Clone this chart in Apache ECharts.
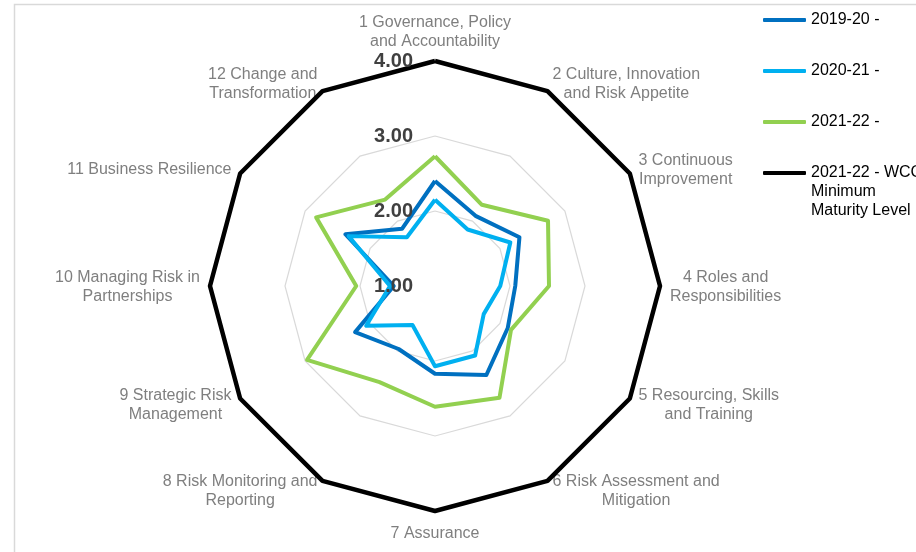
<!DOCTYPE html>
<html>
<head>
<meta charset="utf-8">
<script src="https://cdn.jsdelivr.net/npm/echarts@6/dist/echarts.min.js"></script>
<style>
  html, body { margin: 0; padding: 0; background: #ffffff; }
  #chart { width: 916px; height: 552px; }
</style>
</head>
<body>
<div id="chart"></div>
<script>
// Risk maturity assessment areas, listed clockwise from the top
const categories = [
  '1 Governance, Policy\nand Accountability',
  '2 Culture, Innovation\nand Risk Appetite',
  '3 Continuous\nImprovement',
  '4 Roles and\nResponsibilities',
  '5 Resourcing, Skills\nand Training',
  '6 Risk Assessment and\nMitigation',
  '7 Assurance',
  '8 Risk Monitoring and\nReporting',
  '9 Strategic Risk\nManagement',
  '10 Managing Risk in\nPartnerships',
  '11 Business Resilience',
  '12 Change and\nTransformation'
];

const seriesNames = ['2019-20 -', '2020-21 -', '2021-22 -', '2021-22 - WCC\nMinimum\nMaturity Level'];
const seriesColors = ['#0070c0', '#00b0f0', '#92d050', '#000000'];

const scores2019 = [2.40, 2.08, 2.30, 2.07, 2.12, 2.37, 2.17, 1.97, 2.23, 1.55, 2.38, 1.88];
const scores2020 = [2.15, 1.87, 2.16, 1.87, 1.75, 2.07, 2.07, 1.60, 2.06, 1.60, 2.33, 1.75];
const scores2021 = [2.73, 2.25, 2.74, 2.52, 2.17, 2.72, 2.61, 2.48, 2.97, 2.05, 2.83, 2.33];
const minimumLevel = [4, 4, 4, 4, 4, 4, 4, 4, 4, 4, 4, 4];

const scaleTicks = [1, 2, 3, 4];

// ECharts lays radar indicators out counter-clockwise, so reverse all but the first
const order = [0].concat(categories.slice(1).map((_, i) => categories.length - 1 - i));
const reorder = arr => order.map(i => arr[i]);

const FONT = '"Liberation Sans", Arial, sans-serif';
const CENTER = [435, 286];
const RADIUS = 225;

const baseIndicators = () => reorder(categories).map(name => ({
  name: name, min: scaleTicks[0], max: scaleTicks[scaleTicks.length - 1]
}));

// Overlay radar carrying only the value labels, so they sit above the lines
const labelIndicators = baseIndicators();
labelIndicators[0].axisLabel = {
  show: true,
  margin: 22,
  fontSize: 20,
  fontWeight: 'bold',
  fontFamily: FONT,
  color: '#404040',
  formatter: v => Number(v).toFixed(2)
};

const allScores = [scores2019, scores2020, scores2021, minimumLevel];

const series = allScores.map((vals, k) => ({
  type: 'radar',
  radarIndex: 0,
  name: seriesNames[k],
  symbol: 'none',
  silent: true,
  lineStyle: { width: k === 3 ? 4.5 : 4, color: seriesColors[k] },
  itemStyle: { color: seriesColors[k] },
  data: [{ name: seriesNames[k], value: reorder(vals) }]
}));

const chart = echarts.init(document.getElementById('chart'), null, { renderer: 'canvas' });

chart.setOption({
  backgroundColor: '#ffffff',
  animation: false,
  color: seriesColors,
  graphic: [{
    type: 'rect',
    silent: true,
    shape: { x: 14.5, y: 4.5, width: 1000, height: 1000 },
    style: { fill: 'none', stroke: '#d9d9d9', lineWidth: 1.5 }
  }],
  legend: [{
    orient: 'vertical',
    left: 763,
    top: 10.5,
    padding: 0,
    itemGap: 32,
    itemWidth: 43,
    itemHeight: 4,
    icon: 'roundRect',
    selectedMode: false,
    data: seriesNames.slice(0, 3),
    textStyle: { fontSize: 16, lineHeight: 19, color: '#000000', fontFamily: FONT }
  }, {
    orient: 'vertical',
    left: 763,
    top: 125.5,
    padding: 0,
    itemWidth: 43,
    itemHeight: 4,
    icon: 'roundRect',
    selectedMode: false,
    data: seriesNames.slice(3),
    // two leading blank lines keep the first text line level with the icon
    formatter: name => '\n\n' + name,
    textStyle: { fontSize: 16, lineHeight: 19, color: '#000000', fontFamily: FONT }
  }],
  radar: [{
    center: CENTER,
    radius: RADIUS,
    startAngle: 90,
    splitNumber: scaleTicks.length - 1,
    shape: 'polygon',
    nameGap: 10,
    indicator: baseIndicators(),
    axisName: {
      color: '#7f7f7f',
      fontSize: 16,
      fontFamily: FONT,
      padding: [3, 0, 0, 0],
      formatter: name => name.split('\n').map(l => '{c|' + l + '}').join('\n'),
      rich: {
        c: { align: 'center', fontSize: 16, lineHeight: 19, color: '#7f7f7f', fontFamily: FONT }
      }
    },
    axisLine: { show: false },
    axisTick: { show: false },
    axisLabel: { show: false },
    splitArea: { show: false },
    splitLine: { lineStyle: { color: '#d9d9d9', width: 1.2 } }
  }, {
    z: 10,
    center: CENTER,
    radius: RADIUS,
    startAngle: 90,
    splitNumber: scaleTicks.length - 1,
    shape: 'polygon',
    indicator: labelIndicators,
    axisName: { show: false },
    axisLine: { show: false },
    axisTick: { show: false },
    splitArea: { show: false },
    splitLine: { show: false }
  }],
  series: series
});
</script>
</body>
</html>
